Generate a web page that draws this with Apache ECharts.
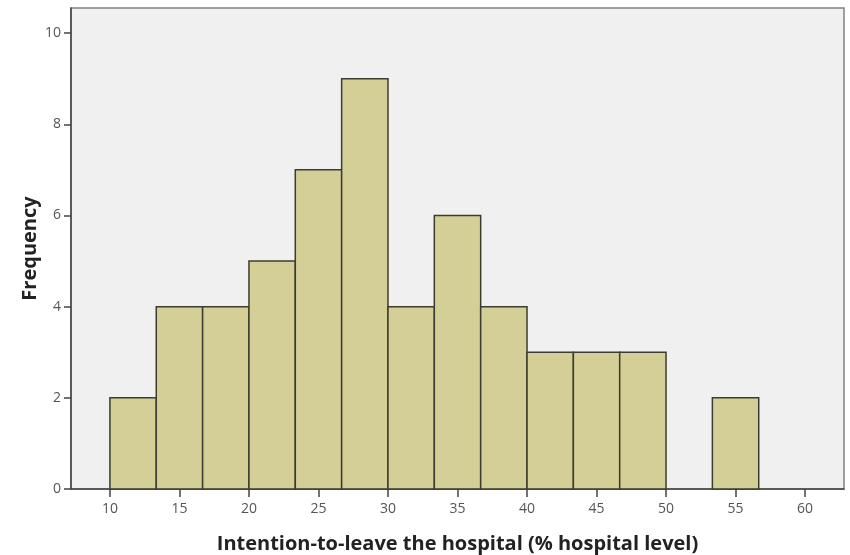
<!DOCTYPE html>
<html>
<head>
<meta charset="utf-8">
<script src="https://cdn.jsdelivr.net/npm/echarts@6/dist/echarts.min.js"></script>
<style>
html,body{margin:0;padding:0;background:#fff;}
#c{width:850px;height:555px;}
</style>
</head>
<body>
<div id="c"></div>
<script>
// Histogram bins (edges) and frequencies
var binStarts = [10, 13.333, 16.667, 20, 23.333, 26.667, 30, 33.333, 36.667, 40, 43.333, 46.667, 50, 53.333];
var binEnds   = [13.333, 16.667, 20, 23.333, 26.667, 30, 33.333, 36.667, 40, 43.333, 46.667, 50, 53.333, 56.667];
var frequencies = [2, 4, 4, 5, 7, 9, 4, 6, 4, 3, 3, 3, 0, 2];
var xTicks = [10, 15, 20, 25, 30, 35, 40, 45, 50, 55, 60];
var yTicks = [0, 2, 4, 6, 8, 10];
var xTitle = 'Intention-to-leave the hospital (% hospital level)';
var yTitle = 'Frequency';

var data = binStarts.map(function (s, i) { return [s, binEnds[i], frequencies[i]]; });

var chart = echarts.init(document.getElementById('c'), null, { renderer: 'canvas' });
chart.setOption({
  animation: false,
  grid: {
    left: 71, right: 6, top: 8, bottom: 66,
    containLabel: false, outerBoundsMode: 'none',
    show: true, backgroundColor: '#F0F0F0', borderColor: '#808080', borderWidth: 1.5
  },
  xAxis: {
    type: 'value', min: 7.2, max: 62.8,
    name: xTitle, nameLocation: 'middle', nameGap: 45, nameMoveOverlap: false,
    nameTextStyle: { fontFamily: 'Open Sans', fontWeight: 'bold', fontSize: 20, color: '#222' },
    axisLine: { show: true, onZero: false, lineStyle: { color: '#444', width: 1.5 } },
    axisTick: { show: true, length: 8, customValues: xTicks, lineStyle: { color: '#444', width: 1.5 } },
    axisLabel: { customValues: xTicks, fontFamily: 'Open Sans', fontSize: 14, color: '#555', margin: 13 },
    splitLine: { show: false }
  },
  yAxis: {
    type: 'value', min: 0, max: 10.55,
    name: yTitle, nameLocation: 'middle', nameGap: 31, nameRotate: 90, nameMoveOverlap: false,
    nameTextStyle: { fontFamily: 'Open Sans', fontWeight: 'bold', fontSize: 20, color: '#222' },
    axisLine: { show: true, lineStyle: { color: '#444', width: 1.5 } },
    axisTick: { show: true, length: 7, customValues: yTicks, lineStyle: { color: '#444', width: 1.5 } },
    axisLabel: { customValues: yTicks, fontFamily: 'Open Sans', fontSize: 14, color: '#555', margin: 10 },
    splitLine: { show: false }
  },
  series: [{
    type: 'custom',
    data: data,
    encode: { x: [0, 1], y: 2 },
    renderItem: function (params, api) {
      var v = api.value(2);
      if (!v) return null;
      var p0 = api.coord([api.value(0), 0]);
      var p1 = api.coord([api.value(1), v]);
      return {
        type: 'rect',
        shape: { x: p0[0], y: p1[1], width: p1[0] - p0[0], height: p0[1] - p1[1] },
        style: { fill: '#D3CF96', stroke: '#3C3C30', lineWidth: 1.5 }
      };
    }
  }]
});
</script>
</body>
</html>
